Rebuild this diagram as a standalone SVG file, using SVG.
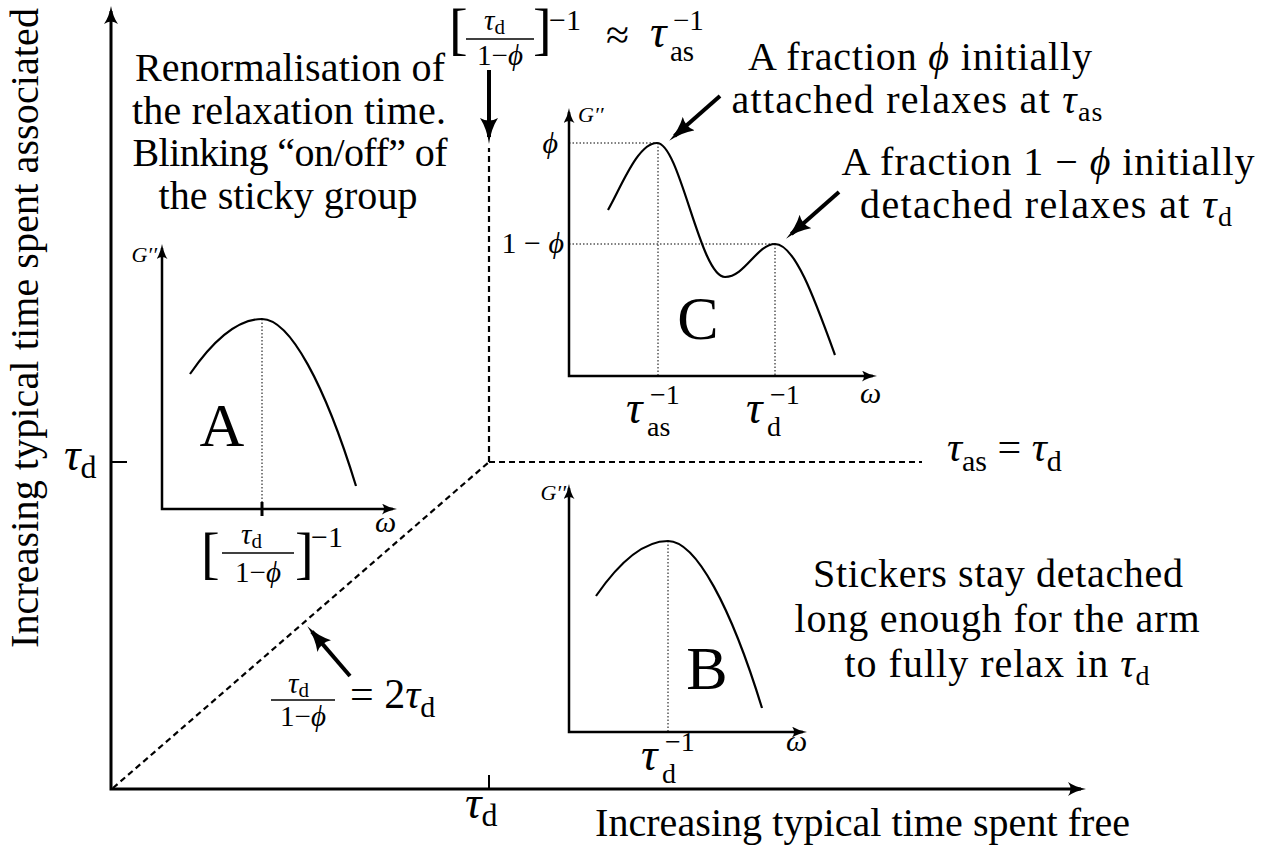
<svg xmlns="http://www.w3.org/2000/svg" width="1266" height="845" viewBox="0 0 1266 845">
<style>
.t{font-family:"Liberation Serif","DejaVu Serif",serif;fill:#000}
.it{font-style:italic}
.ax{fill:none;stroke:#000;stroke-width:3;stroke-linejoin:miter}
.cax{fill:none;stroke:#000;stroke-width:2.5}
.crv{fill:none;stroke:#000;stroke-width:2.2}
.dot{fill:none;stroke:#000;stroke-width:1;stroke-dasharray:1.5 2}
.dash{fill:none;stroke:#000;stroke-width:2.2;stroke-dasharray:6 4}
.arr{fill:none;stroke:#000;stroke-width:4}
.bar{stroke:#000;stroke-width:1.4}
</style>
<defs>
<marker id="mAxis" markerUnits="userSpaceOnUse" viewBox="0 0 18 14" markerWidth="18" markerHeight="14" refX="13" refY="7" orient="auto-start-reverse">
<path d="M0,0 Q7,5 18,7 Q7,9 0,14 Q5,7 0,0 Z" fill="#000"/>
</marker>
<marker id="mSmall" markerUnits="userSpaceOnUse" viewBox="0 0 15 11" markerWidth="15" markerHeight="11" refX="11" refY="5.5" orient="auto-start-reverse">
<path d="M0,0 Q6,4 15,5.5 Q6,7 0,11 Q4,5.5 0,0 Z" fill="#000"/>
</marker>
<marker id="mBig" markerUnits="userSpaceOnUse" viewBox="0 0 26 18" markerWidth="26" markerHeight="18" refX="19" refY="9" orient="auto">
<path d="M0,0 Q11,7 26,9 Q11,11 0,18 Q5,9 0,0 Z" fill="#000"/>
</marker>
</defs>

<g id="main-axes">
<path class="ax" d="M111,11 L111,789 L1081,789" marker-start="url(#mAxis)" marker-end="url(#mAxis)"/>
<line x1="111" y1="462" x2="127" y2="462" stroke="#000" stroke-width="2"/>
<line x1="489" y1="789" x2="489" y2="775" stroke="#000" stroke-width="2"/>
<text class="t" font-size="46" x="64" y="470"><tspan class="it">τ</tspan><tspan font-size="32" dy="8">d</tspan></text>
<text class="t" font-size="46" x="465" y="818"><tspan class="it">τ</tspan><tspan font-size="32" dy="8">d</tspan></text>
<text class="t" font-size="40" x="595" y="836" textLength="535" lengthAdjust="spacing">Increasing typical time spent free</text>
<text class="t" font-size="40" transform="translate(38,648) rotate(-90)" x="0" y="0" textLength="640" lengthAdjust="spacing">Increasing typical time spent associated</text>
</g>

<g id="connectors">
<path class="dash" d="M113,788 L489,462"/>
<path class="dash" d="M489,462 L489,148"/>
<path class="dash" d="M489,462 L922,462"/>
<line class="arr" x1="489" y1="70" x2="489" y2="137" marker-end="url(#mBig)"/>
<line class="arr" x1="720" y1="96" x2="674.5" y2="136.1" marker-end="url(#mBig)"/>
<line class="arr" x1="839" y1="192" x2="791.3" y2="234" marker-end="url(#mBig)"/>
<line class="arr" x1="350" y1="676" x2="311.9" y2="631.6" marker-end="url(#mBig)"/>
</g>

<g id="label-top-formula">
<text class="t" font-size="56" x="449" y="48">[</text>
<text class="t" font-size="29" x="484" y="30"><tspan class="it">τ</tspan><tspan font-size="21" dy="4">d</tspan></text>
<line class="bar" x1="466" y1="39" x2="534" y2="39"/>
<text class="t" font-size="29" x="500" y="65" text-anchor="middle">1−<tspan class="it">ϕ</tspan></text>
<text class="t" font-size="56" x="533" y="48">]</text>
<text class="t" font-size="30" x="549" y="30">−1</text>
<text class="t" font-size="42" x="606" y="49">≈</text>
<text class="t it" font-size="46" x="650" y="47">τ</text>
<text class="t" font-size="29" x="670" y="61">as</text>
<text class="t" font-size="29" x="673" y="30">−1</text>
</g>

<g id="label-renormalisation">
<text class="t" font-size="40" x="290" y="81" text-anchor="middle" textLength="310" lengthAdjust="spacing">Renormalisation of</text>
<text class="t" font-size="40" x="289" y="124" text-anchor="middle" textLength="314" lengthAdjust="spacing">the relaxation time.</text>
<text class="t" font-size="40" x="290" y="166" text-anchor="middle" textLength="315" lengthAdjust="spacing">Blinking “on/off” of</text>
<text class="t" font-size="40" x="288" y="209" text-anchor="middle" textLength="259" lengthAdjust="spacing">the sticky group</text>
</g>

<g id="label-attached">
<text class="t" font-size="40" x="920" y="70" text-anchor="middle" textLength="344" lengthAdjust="spacing">A fraction <tspan class="it">ϕ</tspan> initially</text>
<text class="t" font-size="40" x="917" y="113" text-anchor="middle" textLength="371" lengthAdjust="spacing">attached relaxes at <tspan class="it">τ</tspan><tspan font-size="28" dy="8">as</tspan></text>
</g>

<g id="label-detached">
<text class="t" font-size="40" x="1048" y="175" text-anchor="middle" textLength="413" lengthAdjust="spacing">A fraction 1 − <tspan class="it">ϕ</tspan> initially</text>
<text class="t" font-size="40" x="1046" y="218" text-anchor="middle" textLength="372" lengthAdjust="spacing">detached relaxes at <tspan class="it">τ</tspan><tspan font-size="28" dy="8">d</tspan></text>
</g>

<g id="label-stickers">
<text class="t" font-size="40" x="998" y="587" text-anchor="middle" textLength="370" lengthAdjust="spacing">Stickers stay detached</text>
<text class="t" font-size="40" x="997" y="632" text-anchor="middle" textLength="405" lengthAdjust="spacing">long enough for the arm</text>
<text class="t" font-size="40" x="997" y="677" text-anchor="middle" textLength="305" lengthAdjust="spacing">to fully relax in <tspan class="it">τ</tspan><tspan font-size="28" dy="8">d</tspan></text>
</g>

<g id="label-equal">
<text class="t" font-size="42" x="947" y="461"><tspan class="it">τ</tspan><tspan font-size="30" dy="10">as</tspan><tspan dy="-10"> = </tspan><tspan class="it">τ</tspan><tspan font-size="30" dy="10">d</tspan></text>
</g>

<g id="label-diagonal">
<text class="t" font-size="29" x="288" y="693"><tspan class="it">τ</tspan><tspan font-size="21" dy="4">d</tspan></text>
<line class="bar" x1="271" y1="700" x2="335" y2="700"/>
<text class="t" font-size="29" x="303" y="726" text-anchor="middle">1−<tspan class="it">ϕ</tspan></text>
<text class="t" font-size="42" x="350" y="708">= 2<tspan class="it">τ</tspan><tspan font-size="30" dy="9">d</tspan></text>
</g>

<g id="chart-A">
<path class="cax" d="M162,248 L162,509 L393,509" marker-start="url(#mSmall)" marker-end="url(#mSmall)"/>
<path class="crv" d="M190,374 C210,345 235,319 262,319 C290,319 325,385 356,486"/>
<line class="dot" x1="262" y1="319" x2="262" y2="509"/>
<line x1="262" y1="502" x2="262" y2="516" stroke="#000" stroke-width="3"/>
<text class="t it" font-size="22" x="157" y="262" text-anchor="end">G′′</text>
<text class="t it" font-size="30" x="375" y="532">ω</text>
<text class="t" font-size="62" x="222" y="446" text-anchor="middle">A</text>
<text class="t" font-size="56" x="201" y="572">[</text>
<text class="t" font-size="29" x="241" y="544"><tspan class="it">τ</tspan><tspan font-size="21" dy="4">d</tspan></text>
<line class="bar" x1="222" y1="553" x2="294" y2="553"/>
<text class="t" font-size="29" x="258" y="582" text-anchor="middle">1−<tspan class="it">ϕ</tspan></text>
<text class="t" font-size="56" x="295" y="572">]</text>
<text class="t" font-size="30" x="311" y="547">−1</text>
</g>

<g id="chart-B">
<path class="cax" d="M569,488 L569,732 L803,732" marker-start="url(#mSmall)" marker-end="url(#mSmall)"/>
<path class="crv" d="M596,596 C616,567 641,541 668,541 C696,541 731,607 762,708"/>
<line class="dot" x1="668" y1="541" x2="668" y2="732"/>
<text class="t it" font-size="22" x="566" y="500" text-anchor="end">G′′</text>
<text class="t it" font-size="30" x="786" y="751">ω</text>
<text class="t" font-size="62" x="707" y="689" text-anchor="middle">B</text>
<text class="t it" font-size="46" x="641" y="770">τ</text>
<text class="t" font-size="28" x="662" y="783">d</text>
<text class="t" font-size="28" x="665" y="751">−1</text>
</g>

<g id="chart-C">
<path class="cax" d="M569,112 L569,376 L873,376" marker-start="url(#mSmall)" marker-end="url(#mSmall)"/>
<path class="crv" d="M608,210 C622,185 638,143 657,143 C680,143 700,277 725,277 C745,277 757,244 775,244 C795,244 815,300 835,355"/>
<line class="dot" x1="569" y1="143" x2="657" y2="143"/>
<line class="dot" x1="569" y1="244" x2="775" y2="244"/>
<line class="dot" x1="658" y1="143" x2="658" y2="376"/>
<line class="dot" x1="775" y1="244" x2="775" y2="376"/>
<text class="t it" font-size="22" x="578" y="122">G′′</text>
<text class="t it" font-size="30" x="860" y="403">ω</text>
<text class="t it" font-size="30" x="558" y="153" text-anchor="end">ϕ</text>
<text class="t" font-size="30" x="564" y="253" text-anchor="end">1 − <tspan class="it">ϕ</tspan></text>
<text class="t" font-size="62" x="698" y="339" text-anchor="middle">C</text>
<text class="t it" font-size="46" x="626" y="423">τ</text>
<text class="t" font-size="28" x="647" y="436">as</text>
<text class="t" font-size="28" x="650" y="404">−1</text>
<text class="t it" font-size="46" x="746" y="423">τ</text>
<text class="t" font-size="28" x="767" y="436">d</text>
<text class="t" font-size="28" x="770" y="404">−1</text>
</g>
</svg>
